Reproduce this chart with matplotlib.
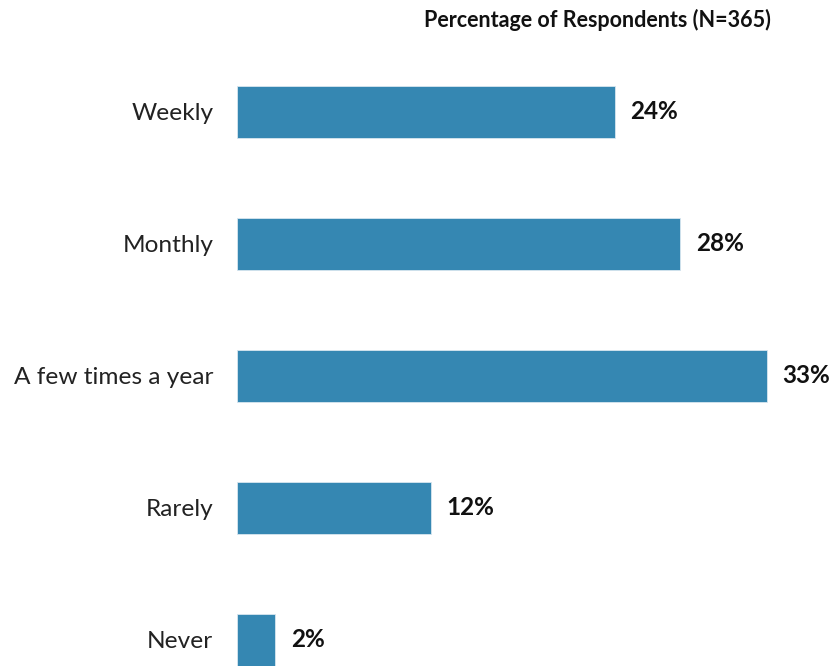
import matplotlib
matplotlib.use("Agg")
import matplotlib.pyplot as plt
from matplotlib.transforms import offset_copy

categories = ["Weekly", "Monthly", "A few times a year", "Rarely", "Never"]
values = [23.6, 27.7, 33.1, 12.1, 2.4]
title = "Percentage of Respondents (N=365)"

plt.rcParams['font.family'] = ['Lato', 'DejaVu Sans']

W, H = 832, 666
fig = plt.figure(figsize=(W/100, H/100), dpi=100)
ax = fig.add_axes([237/W, 0, 1 - 237/W, 626/H])

color = "#3587B2"
y = list(range(len(categories)))
ax.barh(y, values, height=0.394, color=color, edgecolor="#d8e6ef", linewidth=0.6)
ax.set_xlim(0, (W - 237) / 16.0)
ax.set_ylim(4 + 26/132, -72/132)

ax.set_yticks(y)
ax.set_yticklabels(categories, fontsize=17.6, color="#222222")
ax.tick_params(axis='y', length=0, pad=25)
ax.set_xticks([])
for s in ax.spines.values():
    s.set_visible(False)
for lbl in ax.get_yticklabels():
    lbl.set_transform(lbl.get_transform() + matplotlib.transforms.ScaledTranslation(11/100, 0, fig.dpi_scale_trans))

for yi, v in zip(y, values):
    ax.text(v, yi, f"{v:.0f}%", transform=offset_copy(ax.transData, fig=fig, x=16, y=0, units='dots'),
            va='center', ha='left', fontsize=17.5, fontweight='bold', color="#111111")

fig.text(597/W, 1 - 20/H, title, ha='center', va='center', fontsize=15.5, fontweight='bold', color="#111111")

fig.savefig("out.png", dpi=100)
